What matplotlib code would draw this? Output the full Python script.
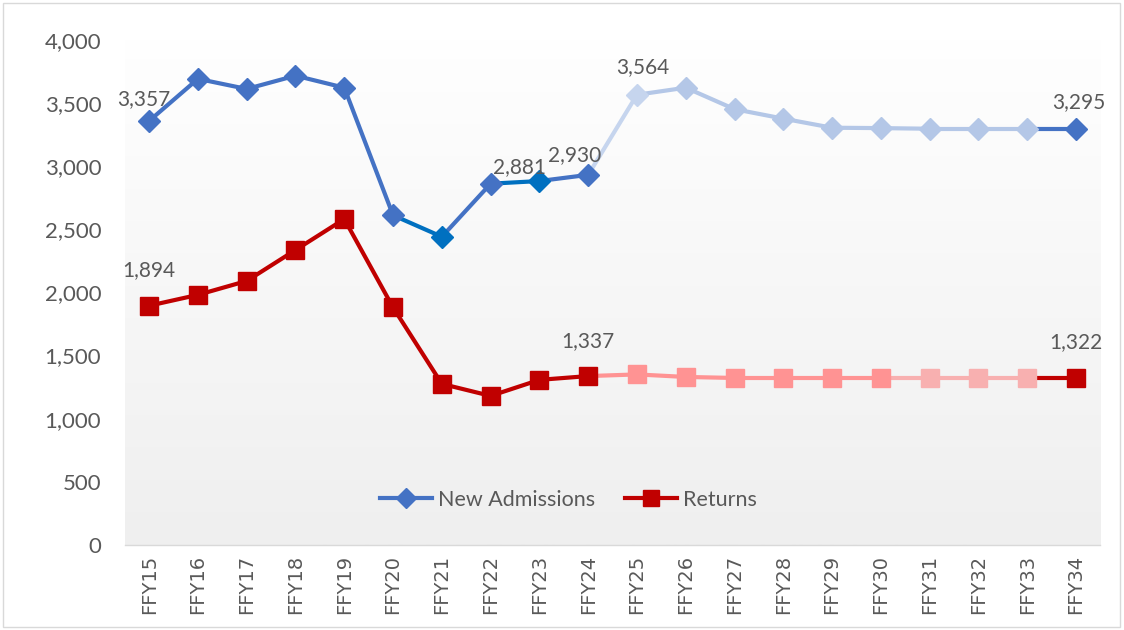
import numpy as np
import matplotlib.pyplot as plt
from matplotlib.patches import Rectangle
from matplotlib.colors import LinearSegmentedColormap

plt.rcParams['font.family'] = ['Lato', 'DejaVu Sans']

# Datos
years = ["FFY15", "FFY16", "FFY17", "FFY18", "FFY19", "FFY20", "FFY21", "FFY22", "FFY23", "FFY24",
         "FFY25", "FFY26", "FFY27", "FFY28", "FFY29", "FFY30", "FFY31", "FFY32", "FFY33", "FFY34"]
new_adm = [3357, 3690, 3610, 3715, 3620, 2610, 2440, 2860, 2881, 2930,
           3564, 3620, 3450, 3375, 3303, 3300, 3295, 3295, 3295, 3295]
returns = [1894, 1980, 2090, 2335, 2580, 1880, 1275, 1180, 1307, 1337,
           1350, 1330, 1322, 1322, 1322, 1322, 1322, 1322, 1322, 1322]

# Colores por punto (el segmento que llega al punto usa el mismo color)
B, B2, BL, BP = "#4472C4", "#0070C0", "#B4C7E7", "#C6D5EE"
R, RL, RP = "#C00000", "#FF9393", "#F8B0B0"
blue_cols = [B] * 6 + [B2, B, B2, B] + [BP] + [BL] * 8 + [B]
red_cols = [R] * 10 + [RL] * 6 + [RP] * 3 + [R]

x = np.arange(len(years))

fig = plt.figure(figsize=(11.24, 6.3), dpi=100)
ax = fig.add_axes([0.111, 0.135, 0.868, 0.802])

# fondo degradado
grad = np.linspace(1, 0, 256).reshape(-1, 1)
ax.imshow(grad, extent=[-0.5, 19.5, 0, 4100], aspect="auto", zorder=0,
          cmap=LinearSegmentedColormap.from_list("g", ["#EFEFEF", "#FFFFFF"]))

def draw(vals, cols, marker, ms):
    for i in range(1, len(vals)):
        ax.plot(x[i - 1:i + 1], vals[i - 1:i + 1], color=cols[i], lw=3, zorder=2,
                solid_capstyle="round")
    for i in range(len(vals)):
        ax.plot(x[i], vals[i], marker=marker, ms=ms, color=cols[i], mec=cols[i], zorder=3)

draw(new_adm, blue_cols, "D", 11)
draw(returns, red_cols, "s", 13)

# leyenda
ax.plot([], [], color=B, lw=3, marker="D", ms=10, label="New Admissions")
ax.plot([], [], color=R, lw=3, marker="s", ms=12, label="Returns")
ax.legend(loc="center", bbox_to_anchor=(0.455, 0.089), ncol=2, frameon=False,
          fontsize=15.5, labelcolor="#595959", handlelength=2.4, columnspacing=1.4,
          handletextpad=0.3)

# etiquetas de datos
labs = [(new_adm, 0, -4, 16), (returns, 0, 0, 26), (new_adm, 8, -14, 10),
        (new_adm, 9, -10, 14), (new_adm, 10, 4, 20), (returns, 9, 0, 25),
        (new_adm, 19, 2, 19), (returns, 19, 0, 26)]
for vals, i, dx, dy in labs:
    ax.annotate(f"{vals[i]:,}", (x[i], vals[i]), xytext=(dx, dy), textcoords="offset points",
                ha="center", va="center", fontsize=15, color="#595959", zorder=4)

ax.set_xlim(-0.5, 19.5)
ax.set_ylim(0, 4000)
ax.set_yticks(np.arange(0, 4001, 500))
ax.yaxis.set_major_formatter(plt.FuncFormatter(lambda v, p: f"{int(v):,}"))
ax.set_xticks(x)
ax.set_xticklabels(years)
for lab in ax.get_xticklabels():
    lab.set_rotation(90)
    lab.set_fontfamily("DejaVu Sans")
    lab.set_fontsize(14)
    lab.set_color("#595959")
ax.tick_params(axis="y", labelsize=16, labelcolor="#595959", length=0, pad=17)
ax.tick_params(axis="x", length=0, pad=7)
for s in ["top", "right", "left"]:
    ax.spines[s].set_visible(False)
ax.spines["bottom"].set_color("#D9D9D9")
ax.spines["bottom"].set_linewidth(1)
ax.spines["bottom"].set_zorder(1)

fig.patches.append(Rectangle((0.003, 0.005), 0.993, 0.99, transform=fig.transFigure,
                             fill=False, edgecolor="#D9D9D9", lw=1))

fig.savefig("out.png", dpi=100)
